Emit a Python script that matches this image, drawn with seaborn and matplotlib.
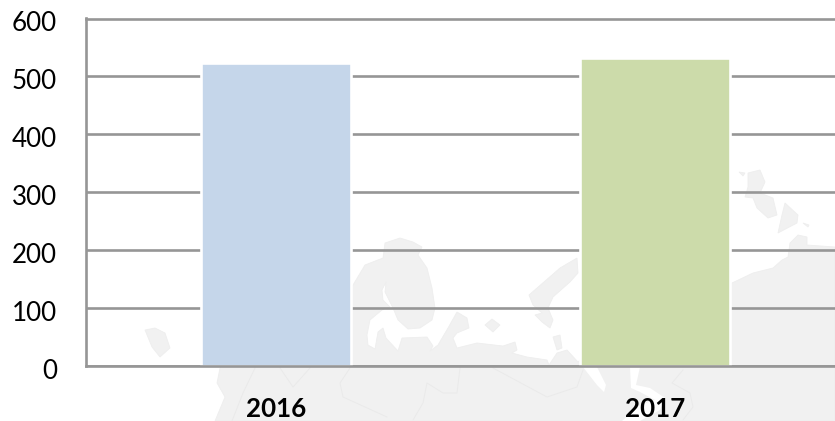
import numpy as np
import pandas as pd
import matplotlib
matplotlib.use("Agg")
import matplotlib.pyplot as plt
from matplotlib.lines import Line2D
from matplotlib.patches import Polygon
from matplotlib.transforms import ScaledTranslation
import seaborn as sns

years = ["2016", "2017"]
values = [524, 531]
bar_colors = ["#c5d6ea", "#ccdbaa"]
y_ticks = [0, 100, 200, 300, 400, 500, 600]

# faint map behind the chart, outlines in image pixels
map_land = [
    (215, 421), (225, 397), (217, 383), (220, 368), (225, 360), (345, 300), (353, 285), (365, 265), (383, 258),
    (385, 243), (400, 238), (413, 242), (422, 247), (418, 255), (427, 268), (432, 288), (435, 308), (432, 320),
    (420, 328), (408, 329), (398, 320), (393, 308), (385, 292), (386, 282), (382, 290), (383, 300), (390, 307),
    (382, 310), (370, 320), (367, 335), (368, 345), (375, 349), (378, 332), (383, 328), (386, 338), (398, 351),
    (402, 338), (427, 337), (433, 346), (430, 351), (438, 345), (448, 328), (457, 312), (467, 318), (469, 328),
    (457, 333), (453, 338), (457, 348), (477, 343), (503, 346), (515, 342), (517, 350), (512, 353), (527, 357),
    (547, 360), (549, 365), (557, 353), (567, 350), (578, 362), (600, 340), (732, 283), (753, 273), (773, 268),
    (782, 260), (788, 257), (790, 243), (798, 235), (807, 237), (807, 245), (835, 247), (835, 421),
]
map_islands = [
    [(145, 330), (155, 328), (165, 333), (170, 348), (160, 357), (152, 347)],
    [(577, 258), (560, 268), (552, 275), (537, 288), (529, 295), (533, 305), (542, 313), (535, 315), (542, 322),
     (550, 328), (553, 320), (548, 308), (553, 297), (570, 282), (578, 273)],
    [(485, 325), (492, 319), (500, 325), (493, 332)],
    [(553, 337), (560, 335), (562, 348), (557, 350)],
    [(748, 173), (760, 170), (765, 182), (760, 193), (773, 198), (777, 215), (768, 218), (757, 208), (753, 198),
     (745, 197), (748, 187)],
    [(785, 203), (798, 215), (797, 223), (778, 233), (782, 215)],
    [(803, 223), (809, 225), (808, 227)],
    [(739, 172), (745, 173), (743, 176)],
]
map_water = [
    [(583, 367), (597, 367), (606, 385), (604, 392), (597, 385)],
    [(630, 367), (640, 367), (636, 385), (650, 388), (665, 398), (660, 410), (640, 421), (622, 421), (640, 405),
     (655, 400), (640, 392), (631, 388)],
]
map_borders = [
    [(255, 368), (243, 393), (232, 421)],
    [(280, 368), (293, 387), (310, 368)],
    [(350, 368), (340, 383), (343, 397), (387, 417)],
    [(460, 368), (457, 393), (443, 393), (427, 383), (423, 403), (413, 420)],
    [(493, 368), (547, 397), (577, 387), (583, 370)],
    [(683, 370), (672, 383), (690, 393), (693, 407), (683, 420)],
]

sns.set_style("white")
plt.rcParams["font.family"] = ["Lato", "DejaVu Sans"]

fig = plt.figure(figsize=(8.35, 4.21), dpi=100)
W, H = 835, 421

def to_fig(pts):
    return [(x / W, 1 - y / H) for x, y in pts]

fig.add_artist(Polygon(to_fig(map_land), transform=fig.transFigure, fc="#f1f1f1", ec="#eeeeee", lw=0.6, zorder=-3))
for isl in map_islands:
    fig.add_artist(Polygon(to_fig(isl), transform=fig.transFigure, fc="#f1f1f1", ec="#eeeeee", lw=0.6, zorder=-3))
for w in map_water:
    fig.add_artist(Polygon(to_fig(w), transform=fig.transFigure, fc="white", ec="none", zorder=-2))
for b in map_borders:
    xy = np.array(to_fig(b))
    fig.add_artist(Line2D(xy[:, 0], xy[:, 1], transform=fig.transFigure, color="#eaeaea", lw=0.7, zorder=-1))

# axes runs a bit past the right edge of the image, like the source
ax = fig.add_axes([86 / W, (H - 366) / H, 759 / W, 347.5 / H])
ax.patch.set_alpha(0)

df = pd.DataFrame({"year": years, "value": values})
sns.barplot(data=df, x="year", y="value", hue="year", palette=bar_colors, legend=False,
            width=0.396, saturation=1, edgecolor="white", linewidth=1.9, ax=ax, zorder=3)

ax.set_xlim(-0.5, 1.5)
ax.set_ylim(0, 600)
ax.set_yticks(y_ticks)
ax.set_xlabel("")
ax.set_ylabel("")
ax.grid(axis="y", color="#969696", lw=1.9, zorder=1)
ax.set_axisbelow(True)
for s in ["left", "bottom", "top"]:
    ax.spines[s].set_color("#969696")
    ax.spines[s].set_linewidth(1.9)
ax.spines["bottom"].set_zorder(4)
ax.spines["right"].set_visible(False)
ax.tick_params(axis="y", length=0, pad=21, labelsize=18.7, labelcolor="black")
ax.tick_params(axis="x", length=0, pad=22, labelsize=18.7, labelcolor="black")
for t in ax.get_xticklabels():
    t.set_fontweight("bold")
shift = ScaledTranslation(0, -3 / 100, fig.dpi_scale_trans)
for t in ax.get_yticklabels():
    t.set_transform(t.get_transform() + shift)

fig.savefig("out.png", dpi=100)
